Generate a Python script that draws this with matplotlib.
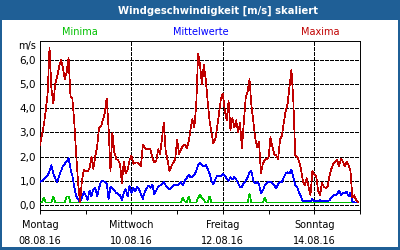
import numpy as np
import matplotlib
matplotlib.use('Agg')
import matplotlib.pyplot as plt
from matplotlib.patches import Rectangle

title = 'Windgeschwindigkeit [m/s] skaliert'
series_names = ['Minima', 'Mittelwerte', 'Maxima']
day_names = ['Montag', 'Mittwoch', 'Freitag', 'Sonntag']
dates = ['08.08.16', '10.08.16', '12.08.16', '14.08.16']
ylabels = ['0,0', '1,0', '2,0', '3,0', '4,0', '5,0', '6,0']

# hourly values, one row per day
maxima = [
    2.48, 2.9, 3.3, 3.9, 4.6, 6.5, 4.8, 4.2, 5.0, 5.3, 5.7, 6.0, 5.7, 5.2, 5.5, 6.1, 4.5, 4.4, 3.4, 2.1, 0.9, 0.1, 1.0, 1.45,
    1.4, 1.4, 1.5, 2.0, 1.5, 2.0, 2.4, 3.2, 3.25, 3.5, 3.8, 4.4, 3.2, 1.4, 3.0, 2.2, 1.9, 1.85, 1.7, 0.9, 1.8, 1.3, 1.45, 1.85,
    2.05, 1.7, 1.75, 1.75, 1.7, 1.6, 2.5, 2.35, 2.3, 2.3, 2.3, 1.95, 1.75, 1.8, 2.3, 2.1, 2.7, 3.4, 2.2, 1.85, 1.4, 1.6, 1.75, 1.9,
    2.7, 2.1, 2.3, 2.45, 2.5, 2.35, 2.6, 3.1, 3.55, 3.2, 4.1, 6.25, 5.8, 5.0, 5.8, 5.2, 4.3, 3.5, 3.0, 2.55, 2.7, 3.2, 3.8, 4.4,
    4.6, 3.9, 3.5, 4.3, 3.1, 3.6, 3.2, 3.5, 3.0, 3.4, 2.35, 3.4, 4.45, 4.7, 5.2, 4.1, 3.45, 2.75, 2.4, 2.6, 1.3, 1.7, 1.85, 1.9,
    1.95, 2.8, 2.4, 2.1, 2.05, 1.9, 2.7, 2.85, 3.4, 3.9, 4.2, 4.9, 5.6, 4.3, 2.05, 2.0, 1.8, 1.5, 1.0, 0.8, 1.1, 0.75, 0.4, 1.4,
    1.25, 1.2, 0.6, 0.4, 0.9, 0.75, 0.7, 0.75, 1.2, 1.5, 1.7, 1.8, 1.85, 1.6, 1.9, 1.8, 1.6, 1.8, 1.65, 1.4, 0.3, 0.4, 0.2, 0.1,
]
mittel = [
    0.95, 1.0, 1.05, 1.15, 1.2, 1.4, 1.65, 1.3, 1.1, 0.95, 1.2, 1.4, 1.6, 1.7, 1.8, 1.95, 1.5, 1.2, 0.75, 0.35, 0.25, 0.1, 0.3, 0.55,
    0.4, 0.2, 0.6, 0.35, 0.65, 0.7, 0.35, 0.7, 0.95, 1.0, 0.95, 0.9, 0.25, 0.75, 0.7, 0.6, 0.5, 0.45, 0.4, 0.2, 0.5, 0.65, 0.35, 0.8,
    0.5, 0.7, 0.55, 0.75, 0.65, 0.45, 0.25, 0.55, 0.7, 0.8, 0.7, 0.85, 0.45, 0.6, 0.75, 0.8, 0.85, 0.95, 0.8, 0.7, 0.65, 0.7, 0.8, 0.85,
    0.8, 0.85, 0.95, 0.8, 1.0, 1.1, 1.25, 1.15, 1.15, 1.25, 1.4, 1.65, 1.75, 1.65, 1.6, 1.65, 1.5, 1.3, 1.0, 0.85, 1.05, 1.2, 1.2, 1.2,
    1.3, 1.2, 1.1, 1.0, 1.15, 1.05, 1.15, 1.05, 0.9, 0.75, 0.75, 0.9, 1.0, 1.15, 1.35, 1.4, 1.0, 0.9, 0.95, 0.85, 0.5, 0.6, 0.8, 0.9,
    0.95, 0.95, 0.9, 0.8, 0.7, 0.85, 0.95, 0.95, 1.15, 1.3, 1.35, 1.3, 1.45, 1.15, 0.8, 0.75, 0.5, 0.35, 0.15, 0.15, 0.15, 0.15, 0.15, 0.25,
    0.15, 0.15, 0.15, 0.2, 0.15, 0.15, 0.15, 0.15, 0.2, 0.3, 0.4, 0.4, 0.45, 0.6, 0.4, 0.5, 0.5, 0.55, 0.35, 0.5, 0.15, 0.1, 0.1, 0.1,
]
minima = [
    0.1, 0.1, 0.3, 0.1, 0.1, 0.1, 0.1, 0.35, 0.1, 0.1, 0.1, 0.1, 0.1, 0.1, 0.35, 0.35, 0.1, 0.1, 0.1, 0.1, 0.1, 0.1, 0.1, 0.1,
    0.1, 0.1, 0.1, 0.1, 0.1, 0.1, 0.1, 0.1, 0.1, 0.1, 0.1, 0.1, 0.1, 0.1, 0.1, 0.1, 0.1, 0.1, 0.1, 0.1, 0.1, 0.1, 0.1, 0.1,
    0.1, 0.1, 0.1, 0.1, 0.1, 0.1, 0.1, 0.1, 0.1, 0.1, 0.1, 0.1, 0.1, 0.1, 0.1, 0.1, 0.1, 0.1, 0.1, 0.1, 0.1, 0.1, 0.1, 0.1,
    0.1, 0.1, 0.1, 0.3, 0.15, 0.1, 0.35, 0.1, 0.1, 0.1, 0.1, 0.3, 0.4, 0.3, 0.2, 0.1, 0.1, 0.35, 0.1, 0.1, 0.1, 0.1, 0.1, 0.1,
    0.1, 0.1, 0.1, 0.1, 0.1, 0.1, 0.1, 0.1, 0.1, 0.1, 0.1, 0.1, 0.1, 0.1, 0.45, 0.1, 0.1, 0.1, 0.1, 0.1, 0.1, 0.1, 0.3, 0.1,
    0.1, 0.1, 0.1, 0.1, 0.1, 0.1, 0.1, 0.1, 0.1, 0.1, 0.1, 0.1, 0.1, 0.1, 0.1, 0.1, 0.1, 0.1, 0.1, 0.1, 0.1, 0.1, 0.1, 0.1,
    0.1, 0.1, 0.1, 0.1, 0.1, 0.1, 0.1, 0.1, 0.1, 0.1, 0.1, 0.1, 0.1, 0.1, 0.1, 0.1, 0.1, 0.1, 0.1, 0.1, 0.1, 0.1, 0.1, 0.1,
]

frame_blue = '#1f5f96'
c_min, c_mid, c_max = '#00c000', '#0000ff', '#c00000'

plt.rcParams['font.family'] = 'DejaVu Sans'
plt.rcParams['font.size'] = 7

W, H = 400, 250
fig = plt.figure(figsize=(4, 2.5), dpi=100)
fig.patch.set_facecolor(frame_blue)
# white panel below the title bar
fig.add_artist(Rectangle((2 / W, 3 / H), 396 / W, 227 / H, transform=fig.transFigure,
                         facecolor='white', edgecolor='none', zorder=0))

fig.text(218 / W, 1 - 10.5 / H, title, color='white', fontweight='bold', fontsize=7.2,
         ha='center', va='center')
fig.text(80 / W, 1 - 32 / H, series_names[0], color=c_min, ha='center', va='center')
fig.text(201 / W, 1 - 32 / H, series_names[1], color=c_mid, ha='center', va='center')
fig.text(320 / W, 1 - 32 / H, series_names[2], color=c_max, ha='center', va='center')
fig.text(27 / W, 1 - 46 / H, 'm/s', ha='center', va='center')

ax = fig.add_axes([40 / W, (H - 210) / H, 320 / W, 169 / H])
ax.set_facecolor('white')

lw = 0.7
dlw = 0.5
t = np.arange(len(maxima)) / 24.0
ax.plot(t, minima, color=c_min, lw=dlw, antialiased=False, zorder=3)
ax.plot(t, mittel, color=c_mid, lw=dlw, antialiased=False, zorder=3)
ax.plot(t, maxima, color=c_max, lw=dlw, antialiased=False, zorder=4)

ax.set_xlim(0, 7)
ax.set_ylim(-0.21, 6.78)

for v in range(7):
    ax.axhline(v, color='black', lw=lw, dashes=(4, 2), antialiased=False, zorder=2)
for d in [2, 4, 6]:
    ax.axvline(d, color='black', lw=lw, dashes=(4, 2), antialiased=False, zorder=2)

ax.set_yticks(range(7))
ax.set_yticklabels(ylabels, fontsize=7.5)
ax.tick_params(axis='y', length=0, pad=3)

ax.set_xticks([0, 2, 4, 6])
ax.set_xticklabels([f'{n}\n{d}' for n, d in zip(day_names, dates)], linespacing=1.8)
ax.set_xticks([1, 3, 5, 7], minor=True)
ax.tick_params(axis='x', which='both', length=3, width=lw, direction='out', pad=4)

for s in ax.spines.values():
    s.set_linewidth(lw)
    s.set_color('black')

fig.savefig('out.png', dpi=100, facecolor=fig.get_facecolor())
